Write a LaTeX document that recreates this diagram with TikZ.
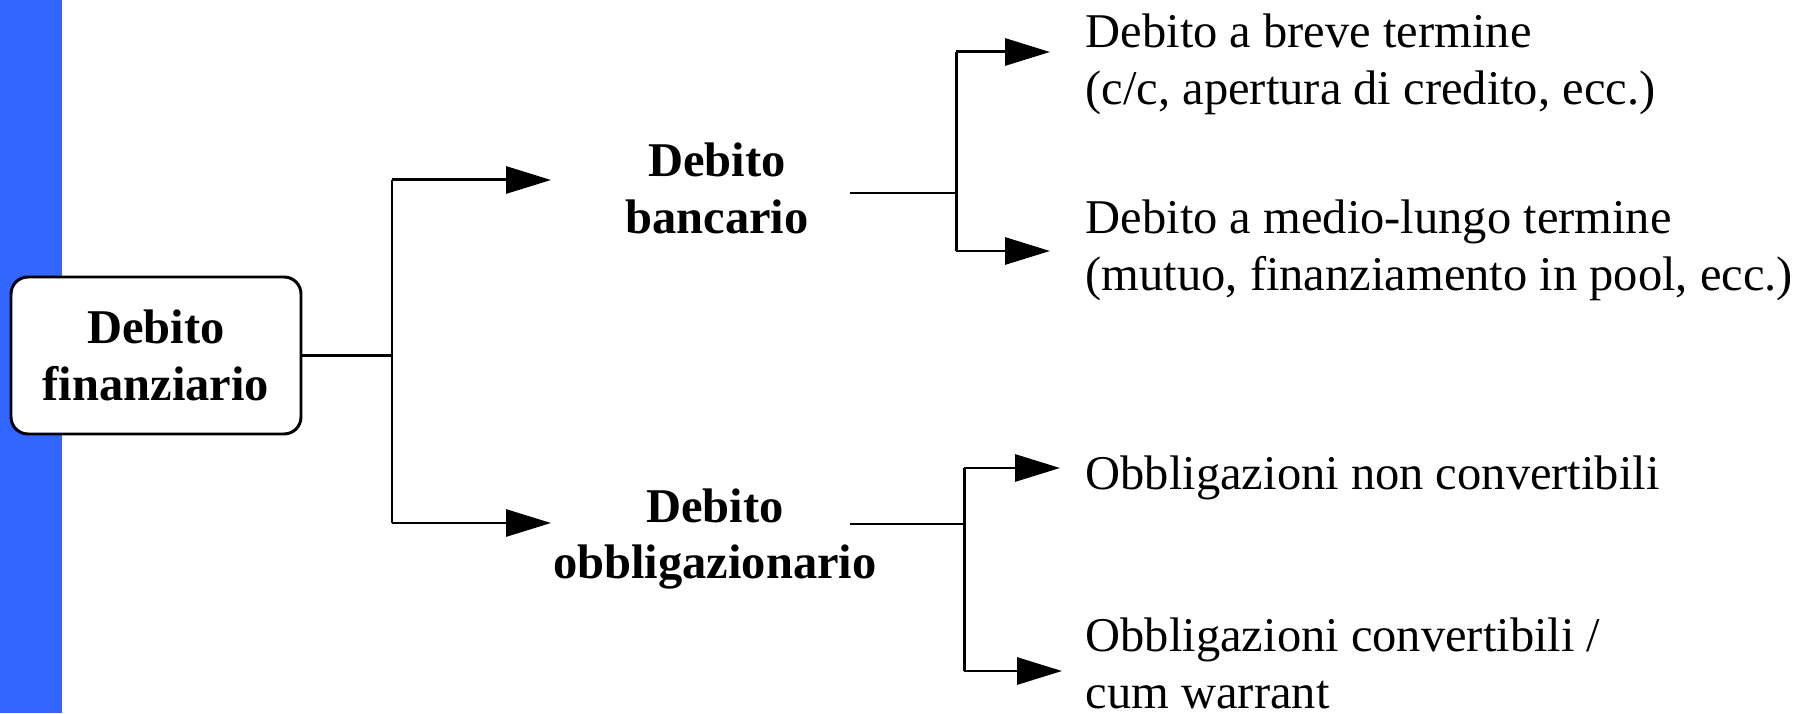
\documentclass[tikz,border=0pt]{standalone}
\usepackage{fontspec}
\setmainfont{Liberation Serif}
\usetikzlibrary{arrows.meta}
\definecolor{barblue}{RGB}{51,102,255}
\tikzset{
    conn/.style={line width=0.85pt},
    arr/.style={conn, -{Triangle[length=0.45cm, width=0.27cm]}},
    head/.style={font=\fontsize{13.8}{16.2}\selectfont\bfseries, align=center, inner sep=0pt},
    item/.style={font=\fontsize{13.8}{16.2}\selectfont, align=left, anchor=north west, inner sep=0pt}
}
\begin{document}
\begin{tikzpicture}
        \useasboundingbox (0,0) rectangle (18.19,7.13);
        \fill[barblue] (0,0) rectangle (0.62,7.13);
        % boxes and labels
        \node[head, draw, conn, fill=white, rounded corners=0.17cm, minimum width=2.9cm, minimum height=1.57cm] (root) at (1.56,3.575) {Debito\\finanziario};
        \node[head] (banc) at (7.17,5.25) {Debito\\bancario};
        \node[head] (obbl) at (7.15,1.74) {Debito\\obbligazionario};
        \node[item] (breve) at (10.85,7.00) {Debito a breve termine\\(c/c, apertura di credito, ecc.)};
        \node[item] (lungo) at (10.85,5.14) {Debito a medio-lungo termine\\(mutuo, finanziamento in pool, ecc.)};
        \node[item] (nonconv) at (10.85,2.58) {Obbligazioni non convertibili};
        \node[item] (conv) at (10.85,0.96) {Obbligazioni convertibili /\\cum warrant};
        % junctions
        \coordinate (j0) at (3.92,3.575);
        \coordinate (j0t) at (3.92,5.33);
        \coordinate (j0b) at (3.92,1.90);
        \coordinate (t0t) at (5.51,5.33);
        \coordinate (t0b) at (5.51,1.90);
        \coordinate (b0) at (8.50,5.20);
        \coordinate (j1) at (9.56,5.20);
        \coordinate (j1t) at (9.56,6.61);
        \coordinate (j1b) at (9.56,4.62);
        \coordinate (t1t) at (10.50,6.61);
        \coordinate (t1b) at (10.50,4.62);
        \coordinate (o0) at (8.50,1.89);
        \coordinate (j2) at (9.64,1.89);
        \coordinate (j2t) at (9.64,2.45);
        \coordinate (j2b) at (9.64,0.42);
        \coordinate (t2t) at (10.60,2.45);
        \coordinate (t2b) at (10.62,0.42);
        % connectors
        \draw[conn] (root.east) -- (j0);
        \draw[conn] (j0t) -- (j0b);
        \draw[arr] (j0t) -- (t0t);
        \draw[arr] (j0b) -- (t0b);
        \draw[conn] (b0) -- (j1);
        \draw[conn] (j1t) -- (j1b);
        \draw[arr] (j1t) -- (t1t);
        \draw[arr] (j1b) -- (t1b);
        \draw[conn] (o0) -- (j2);
        \draw[conn] (j2t) -- (j2b);
        \draw[arr] (j2t) -- (t2t);
        \draw[arr] (j2b) -- (t2b);
\end{tikzpicture}
\end{document}
